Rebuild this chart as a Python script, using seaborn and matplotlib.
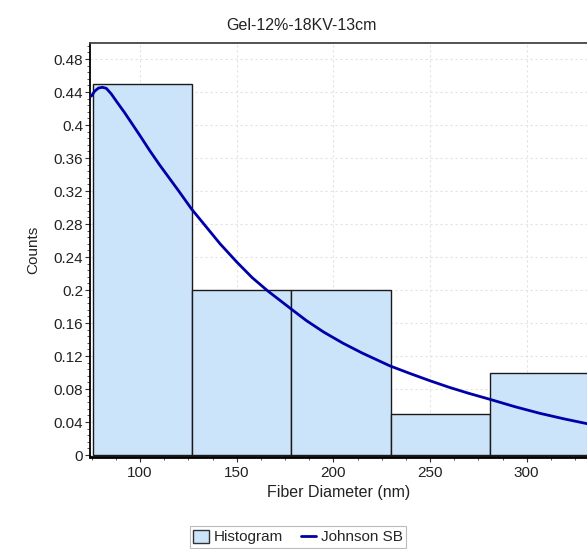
import numpy as np
import pandas as pd
import matplotlib
matplotlib.use("Agg")
import matplotlib.pyplot as plt
import seaborn as sns
from matplotlib.ticker import MultipleLocator, AutoMinorLocator, FuncFormatter
from matplotlib.patches import Patch
from matplotlib.lines import Line2D

# ---- data ----
title = "Gel-12%-18KV-13cm"
x_label = "Fiber Diameter (nm)"
y_label = "Counts"
legend_labels = ["Histogram", "Johnson SB"]

bin_edges = [75.4, 126.8, 178.2, 229.6, 281.0, 332.4]
bin_freq = [0.45, 0.20, 0.20, 0.05, 0.10]

fit_x = [74.8, 76.5, 78.5, 80.5, 82.5, 85.0, 88.0, 92.0, 96.0, 100.0, 105.0,
         110.0, 115.0, 120.0, 126.7, 133.0, 141.4, 150.0, 158.0, 166.0, 177.6,
         186.0, 195.0, 205.0, 215.0, 229.3, 240.0, 250.0, 260.0, 270.0, 281.0,
         294.0, 306.9, 319.0, 331.2]
fit_y = [0.435, 0.441, 0.4448, 0.4457, 0.4445, 0.438, 0.428, 0.415, 0.401, 0.387, 0.369,
         0.352, 0.336, 0.320, 0.298, 0.280, 0.256, 0.234, 0.215, 0.199, 0.178,
         0.163, 0.149, 0.1355, 0.1235, 0.108, 0.0985, 0.090, 0.082, 0.0748, 0.0675,
         0.0585, 0.0505, 0.044, 0.038]

# ---- style ----
sns.set_style("white")
plt.rcParams["font.family"] = ["Liberation Sans", "DejaVu Sans"]

W, H = 587, 549
fig = plt.figure(figsize=(W / 100, H / 100), dpi=100)
ax = fig.add_axes([90 / W, 1 - 457 / H, 1 - 90 / W, 414 / H])

bar_color = "#cce4fa"
line_color = "#0000a8"

centers = [(a + b) / 2 for a, b in zip(bin_edges[:-1], bin_edges[1:])]
df_hist = pd.DataFrame({"center": centers, "freq": bin_freq})
sns.histplot(data=df_hist, x="center", weights="freq", bins=bin_edges, stat="count",
             color=bar_color, alpha=1, edgecolor="#1a1a1a", linewidth=1.0, ax=ax,
             zorder=2)
df_fit = pd.DataFrame({"x": fit_x, "y": fit_y})
sns.lineplot(data=df_fit, x="x", y="y", color=line_color, linewidth=2.0, ax=ax,
             zorder=3)
for ln in ax.lines:
    ln.set_solid_joinstyle("round")
    ln.set_solid_capstyle("round")

ax.set_xlim(74.1, 331.2)
ax.set_ylim(-0.0024, 0.4994)

ax.xaxis.set_major_locator(MultipleLocator(50))
ax.xaxis.set_minor_locator(AutoMinorLocator(4))
ax.yaxis.set_major_locator(MultipleLocator(0.04))
ax.yaxis.set_minor_locator(AutoMinorLocator(5))
ax.yaxis.set_major_formatter(FuncFormatter(lambda v, p: f"{round(v, 4):g}"))

ax.grid(True, which="major", linestyle=(0, (2, 2.5)), color="#e2e2e2", linewidth=0.8)
ax.set_axisbelow(True)

ax.tick_params(axis="both", which="major", direction="out", length=3.5, width=0.8,
               color="#333333", labelsize=11, labelcolor="#222222", pad=1.5)
ax.tick_params(axis="both", which="minor", direction="out", length=2, width=0.7,
               color="#555555")
ax.tick_params(axis="x", which="major", pad=3)
ax.tick_params(bottom=True, left=True, which="both")

ax.spines["right"].set_visible(False)
ax.spines["bottom"].set_color("black")
ax.spines["bottom"].set_linewidth(2.0)
ax.spines["left"].set_color("black")
ax.spines["left"].set_linewidth(1.3)
ax.spines["top"].set_color("#444444")
ax.spines["top"].set_linewidth(1.3)

ax.set_xlabel(x_label, fontsize=11.5, color="#222222")
ax.xaxis.set_label_coords((339 - 90) / 497, -(493 - 457) / 414)
ax.xaxis.label.set_va("center")
ax.set_ylabel(y_label, fontsize=11, color="#222222")
ax.yaxis.set_label_coords(-(90 - 33) / 497, 0.5)
ax.yaxis.label.set_va("center")

fig.text(301 / W, 1 - 25 / H, title, ha="center", va="center", fontsize=11.5,
         color="#222222")

handles = [Patch(facecolor=bar_color, edgecolor="#333333", linewidth=1.0),
           Line2D([0], [0], color=line_color, linewidth=2.0)]
leg = fig.legend(handles, legend_labels, loc="upper center",
                 bbox_to_anchor=(298 / W, 1 - 526 / H), ncol=2, frameon=True,
                 fancybox=False, edgecolor="#aaaaaa", fontsize=11,
                 handlelength=1.0, handleheight=0.9, handletextpad=0.3,
                 columnspacing=1.2, borderpad=0.25, borderaxespad=0)
leg.get_frame().set_linewidth(0.8)

fig.savefig("out.png", dpi=100)
